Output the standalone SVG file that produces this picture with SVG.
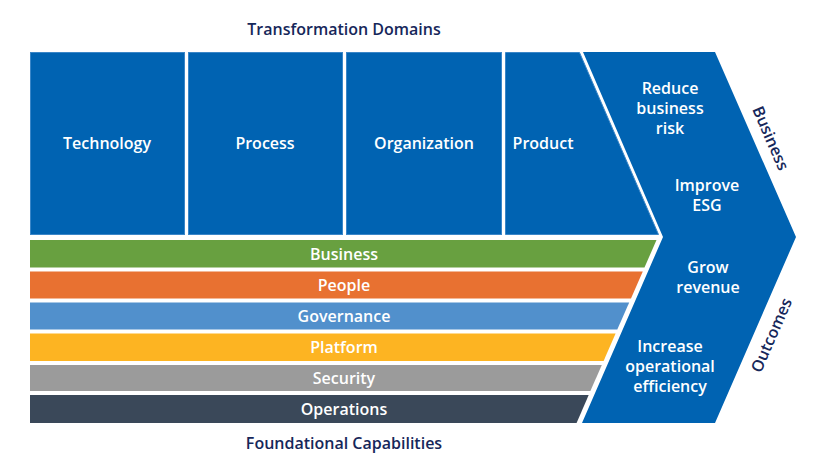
<svg xmlns="http://www.w3.org/2000/svg" width="814" height="468" viewBox="0 0 814 468">
<style>
.dom{fill:#0063B2;stroke:#3a86c8;stroke-width:1}
.lbl{font-family:"Open Sans","Noto Sans","DejaVu Sans",sans-serif;font-size:16px;font-weight:600;fill:#ffffff;text-anchor:middle;dominant-baseline:central}
.ttl{font-family:"Open Sans","Noto Sans","DejaVu Sans",sans-serif;font-size:16px;font-weight:600;fill:#16275A;text-anchor:middle}
.side{font-family:"Open Sans","Noto Sans","DejaVu Sans",sans-serif;font-size:16px;font-weight:600;fill:#16275A;text-anchor:middle;dominant-baseline:central}
</style>
<rect width="814" height="468" fill="#ffffff"/>
<text class="ttl" x="344" y="35">Transformation Domains</text>
<text class="ttl" x="344" y="449">Foundational Capabilities</text>

<g id="outcomes">
<polygon points="583,52 715,52 796,237 715,423 582,423 663,237" fill="#0063B2"/>
<text class="lbl"><tspan x="670" y="88">Reduce</tspan><tspan x="670" y="108">business</tspan><tspan x="670" y="128">risk</tspan></text>
<text class="lbl"><tspan x="707" y="185">Improve</tspan><tspan x="707" y="205">ESG</tspan></text>
<text class="lbl"><tspan x="708" y="267">Grow</tspan><tspan x="708" y="287">revenue</tspan></text>
<text class="lbl"><tspan x="670" y="346">Increase</tspan><tspan x="670" y="366">operational</tspan><tspan x="670" y="386">efficiency</tspan></text>
<text class="side" transform="translate(771,138) rotate(66.4)">Business</text>
<text class="side" transform="translate(771,335) rotate(-66.4)">Outcomes</text>
</g>

<g id="technology">
<rect class="dom" x="30.5" y="52.5" width="154" height="182"/>
<text class="lbl" x="107" y="143">Technology</text>
</g>
<g id="process">
<rect class="dom" x="188.5" y="52.5" width="154" height="182"/>
<text class="lbl" x="265" y="143">Process</text>
</g>
<g id="organization">
<rect class="dom" x="346.5" y="52.5" width="155" height="182"/>
<text class="lbl" x="424" y="143">Organization</text>
</g>
<g id="product">
<polygon class="dom" points="505.5,52.5 579.5,52.5 658.5,234.5 505.5,234.5"/>
<text class="lbl" x="543" y="143">Product</text>
</g>

<g id="business">
<polygon points="30,240 656.5,240 644.5,267.5 30,267.5" fill="#68A040"/>
<text class="lbl" x="344" y="254">Business</text>
</g>
<g id="people">
<polygon points="30,271.5 642.8,271.5 631,298.5 30,298.5" fill="#E87131"/>
<text class="lbl" x="344" y="285">People</text>
</g>
<g id="governance">
<polygon points="30,302.5 629.2,302.5 617.3,329.5 30,329.5" fill="#5190CC"/>
<text class="lbl" x="344" y="316">Governance</text>
</g>
<g id="platform">
<polygon points="30,333.5 615.6,333.5 603.6,361 30,361" fill="#FDB422"/>
<text class="lbl" x="344" y="347">Platform</text>
</g>
<g id="security">
<polygon points="30,365 601.8,365 590.4,391 30,391" fill="#9B9B9B"/>
<text class="lbl" x="344" y="378">Security</text>
</g>
<g id="operations">
<polygon points="30,395 588.7,395 576.6,423 30,423" fill="#3A4859"/>
<text class="lbl" x="344" y="409">Operations</text>
</g>
<g id="connectors"></g>
</svg>
